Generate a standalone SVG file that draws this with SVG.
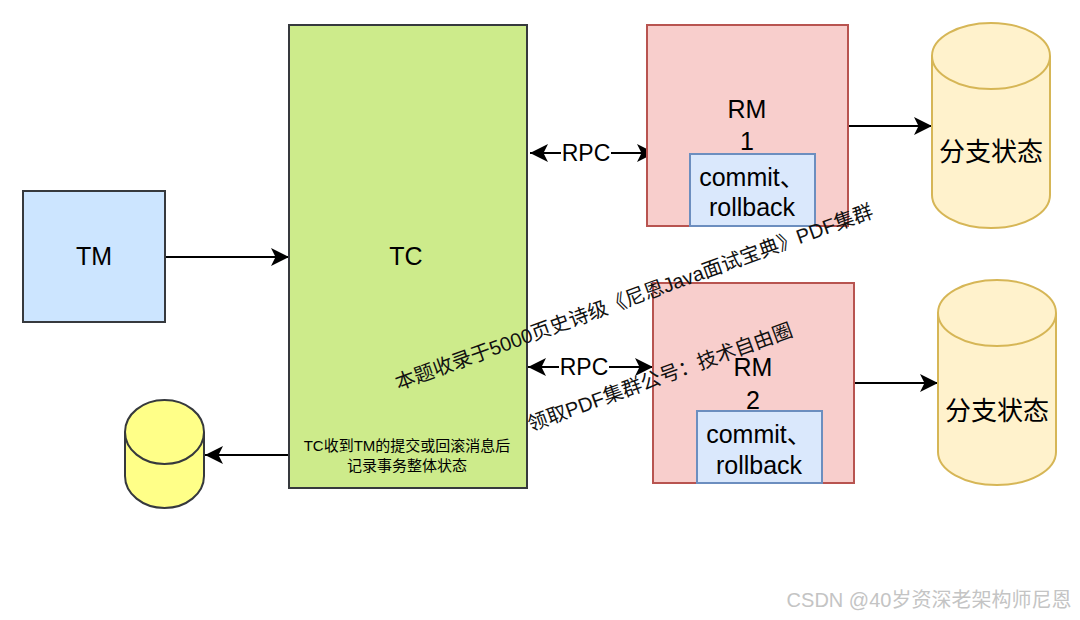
<svg xmlns="http://www.w3.org/2000/svg" width="1080" height="620" viewBox="0 0 1080 620">
<defs>
<style>
text{font-family:"Liberation Sans","Noto Sans CJK SC",sans-serif;fill:#000;text-anchor:middle;dominant-baseline:central}
.big{font-size:25px}
.cyl{fill:#fff2cc;stroke:#d6b656;stroke-width:2}
.rm{fill:#f8cecc;stroke:#b85450;stroke-width:2}
.inner{fill:#dae8fc;stroke:#6c8ebf;stroke-width:2}
.edge{fill:none;stroke:#000;stroke-width:2}
.wm{font-size:20px;fill:#111}
</style>
<marker id="ah" viewBox="0 0 18 18" refX="18" refY="9" markerWidth="18" markerHeight="18" markerUnits="userSpaceOnUse" orient="auto-start-reverse">
<path d="M0,0 L18,9 L0,18 L4.5,9 Z" fill="#000"/>
</marker>
</defs>
<rect width="1080" height="620" fill="#fff"/>
<g id="connectors">
<line class="edge" x1="165" y1="257" x2="289" y2="257" marker-end="url(#ah)"/>
<line class="edge" x1="530" y1="153" x2="655" y2="153" marker-start="url(#ah)" marker-end="url(#ah)"/>
<line class="edge" x1="528" y1="367" x2="653" y2="367" marker-start="url(#ah)" marker-end="url(#ah)"/>
<line class="edge" x1="848" y1="126" x2="932" y2="126" marker-end="url(#ah)"/>
<line class="edge" x1="854" y1="383" x2="938" y2="383" marker-end="url(#ah)"/>
<line class="edge" x1="296" y1="455" x2="205" y2="455" marker-end="url(#ah)"/>
<rect x="561" y="140" width="50" height="26" fill="#fff"/>
<text x="586" y="153" style="font-size:23px">RPC</text>
<rect x="559" y="354" width="50" height="26" fill="#fff"/>
<text x="584" y="367" style="font-size:23px">RPC</text>
</g>
<g id="tm">
<rect x="23" y="191" width="142" height="131" fill="#cce5ff" stroke="#36393d" stroke-width="2"/>
<text class="big" x="94" y="256">TM</text>
</g>
<g id="tc">
<rect x="289" y="25" width="238" height="463" fill="#cdeb8b" stroke="#36393d" stroke-width="2"/>
<text class="big" x="406" y="256">TC</text>
<text x="407" y="445" style="font-size:15px">TC收到TM的提交或回滚消息后</text>
<text x="407" y="465" style="font-size:15px">记录事务整体状态</text>
</g>
<g id="rm1">
<rect class="rm" x="647" y="25" width="201" height="201"/>
<text class="big" x="747" y="109">RM</text>
<text class="big" x="747" y="141">1</text>
</g>
<g id="rm1-ops">
<rect class="inner" x="690" y="154" width="125" height="72"/>
<text class="big" x="752" y="177">commit、</text>
<text class="big" x="752" y="207">rollback</text>
</g>
<g id="rm2">
<rect class="rm" x="653" y="283" width="201" height="200"/>
<text class="big" x="753" y="367">RM</text>
<text class="big" x="753" y="400">2</text>
</g>
<g id="rm2-ops">
<rect class="inner" x="697" y="411" width="125" height="72"/>
<text class="big" x="759" y="434">commit、</text>
<text class="big" x="759" y="465">rollback</text>
</g>
<g id="branch1">
<path class="cyl" d="M932,56 A59,33 0 0 1 1050,56 V195 A59,33 0 0 1 932,195 Z"/>
<path class="cyl" d="M932,56 A59,33 0 0 0 1050,56" fill="none"/>
<text x="991" y="152" style="font-size:26px">分支状态</text>
</g>
<g id="branch2">
<path class="cyl" d="M938,313 A59,33 0 0 1 1056,313 V452 A59,33 0 0 1 938,452 Z"/>
<path class="cyl" d="M938,313 A59,33 0 0 0 1056,313" fill="none"/>
<text x="997" y="411" style="font-size:26px">分支状态</text>
</g>
<g id="global-store">
<path d="M125,432 A39.5,32 0 0 1 204,432 V476 A39.5,32 0 0 1 125,476 Z" fill="#ffff88" stroke="#36393d" stroke-width="2"/>
<path d="M125,432 A39.5,32 0 0 0 204,432" fill="none" stroke="#36393d" stroke-width="2"/>
</g>
<g id="watermark">
<text class="wm" transform="translate(634,297) rotate(-20)">本题收录于5000页史诗级《尼恩Java面试宝典》PDF集群</text>
<text class="wm" transform="translate(660,377) rotate(-20)">领取PDF集群公号：技术自由圈</text>
<text x="929" y="600" style="font-size:20px;fill:#c4c4c4">CSDN @40岁资深老架构师尼恩</text>
</g>
</svg>
